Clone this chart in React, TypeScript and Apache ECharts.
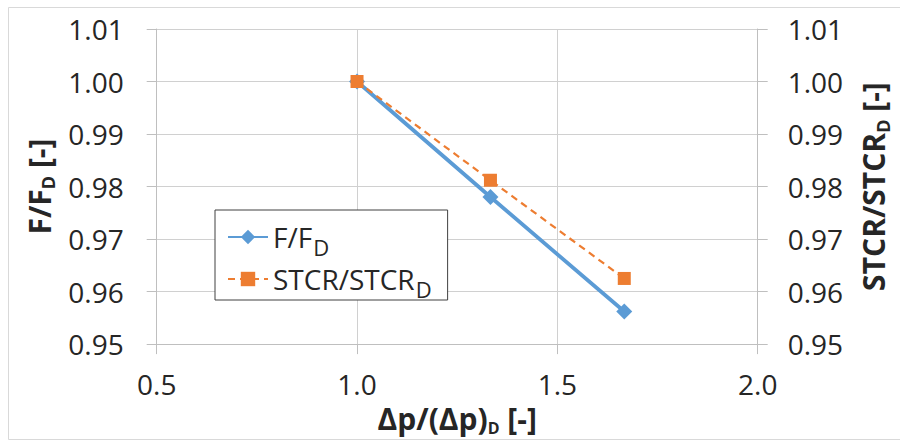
import React, { useEffect, useRef } from "react";
import * as echarts from "echarts";

const xValues = [1.0, 1.333, 1.667];
const fRatio = [1.0, 0.978, 0.9562];
const stcrRatio = [1.0, 0.9812, 0.9625];
const seriesNames = ["F/FD", "STCR/STCRD"];
const xMin = 0.5;
const xMax = 2.0;
const xStep = 0.5;
const yMin = 0.95;
const yMax = 1.01;
const yStep = 0.01;

const FONT = "'Open Sans', 'DejaVu Sans', sans-serif";
const TXT = "#262626";
const BLUE = "#5b9bd5";
const ORANGE = "#ed7d31";

export default function App() {
  const ref = useRef<HTMLDivElement>(null);
  useEffect(() => {
    if (!ref.current) return;
    const chart = echarts.init(ref.current, null, { renderer: "svg" });
    const bold = { fontFamily: FONT, fontWeight: "bold", color: TXT };
    const reg = { fontFamily: FONT, color: TXT };
    const titleRich = {
      m: { ...bold, fontSize: 30, lineHeight: 36 },
      s: { ...bold, fontSize: 16, lineHeight: 11, verticalAlign: "bottom" },
    };
    const yNameRich = {
      m: { ...bold, fontSize: 30, lineHeight: 36 },
      s: { ...bold, fontSize: 18, lineHeight: 20, verticalAlign: "bottom" },
    };
    const yAxisCommon = {
      type: "value",
      min: yMin,
      max: yMax,
      interval: yStep,
      nameLocation: "middle",
      nameRotate: 90,
      nameTextStyle: { rich: yNameRich },
      axisLine: { show: true, lineStyle: { color: "#bfbfbf", width: 1 } },
      axisTick: { show: true, inside: false, length: 10, lineStyle: { color: "#bfbfbf" } },
      axisLabel: {
        fontSize: 28,
        fontFamily: FONT,
        color: TXT,
        formatter: (v: number) => v.toFixed(2),
      },
    };
    chart.setOption({
      animation: false,
      backgroundColor: "#ffffff",
      graphic: [
        {
          type: "rect",
          shape: { x: 8.5, y: 7.5, width: 900, height: 432 },
          style: { fill: "none", stroke: "#d9d9d9", lineWidth: 1 },
          silent: true,
        },
      ],
      grid: { left: 156.7, right: 142.3, top: 29, bottom: 95.3, containLabel: false },
      xAxis: {
        type: "value",
        min: xMin,
        max: xMax,
        interval: xStep,
        name: "{m|Δp/(Δp)}{s|D}{m| [-]}",
        nameLocation: "middle",
        nameGap: 55,
        nameTextStyle: { rich: titleRich },
        axisLine: { show: true, onZero: false, lineStyle: { color: "#bfbfbf", width: 1 } },
        axisTick: { show: true, length: 10, lineStyle: { color: "#bfbfbf" } },
        splitLine: { show: true, lineStyle: { color: "#d0d0d0", width: 1 } },
        axisLabel: {
          fontSize: 28,
          fontFamily: FONT,
          color: TXT,
          margin: 26,
          formatter: (v: number) => v.toFixed(1),
        },
      },
      yAxis: [
        {
          ...yAxisCommon,
          position: "left",
          name: "{m|F/F}{s|D}{m| [-]}",
          nameGap: 95,
          splitLine: { show: true, lineStyle: { color: "#d0d0d0", width: 1 } },
          axisLabel: { ...yAxisCommon.axisLabel, margin: 33 },
        },
        {
          ...yAxisCommon,
          position: "right",
          name: "{m|STCR/STCR}{s|D}{m| [-]}",
          nameGap: 98,
          splitLine: { show: false },
          axisLabel: { ...yAxisCommon.axisLabel, margin: 30 },
        },
      ],
      legend: {
        orient: "vertical",
        left: 215,
        top: 210,
        padding: [13, 16, 0, 12],
        itemGap: 7,
        itemWidth: 40,
        itemHeight: 18,
        borderColor: "#404040",
        borderWidth: 1,
        backgroundColor: "#ffffff",
        data: seriesNames,
        formatter: (name: string) =>
          name === seriesNames[0] ? "{m|F/F}{s|D}" : "{m|STCR/STCR}{s|D}",
        textStyle: {
          rich: {
            m: { ...reg, fontSize: 28 },
            s: { ...reg, fontSize: 22, padding: [20, 0, 0, 1] },
          },
        },
      },
      series: [
        {
          name: seriesNames[0],
          type: "line",
          yAxisIndex: 0,
          data: xValues.map((x, i) => [x, fRatio[i]]),
          symbol: "diamond",
          symbolSize: 16,
          lineStyle: { color: BLUE, width: 3.8 },
          itemStyle: { color: BLUE },
          z: 3,
        },
        {
          name: seriesNames[1],
          type: "line",
          yAxisIndex: 1,
          data: xValues.map((x, i) => [x, stcrRatio[i]]),
          symbol: "rect",
          symbolSize: 13,
          lineStyle: { color: ORANGE, width: 2.2, type: [7, 5] },
          itemStyle: { color: ORANGE },
          z: 4,
        },
      ],
    });
    return () => chart.dispose();
  }, []);
  return (
    <div
      ref={ref}
      style={{ position: "fixed", left: 0, top: 0, width: 900, height: 441 }}
    />
  );
}
